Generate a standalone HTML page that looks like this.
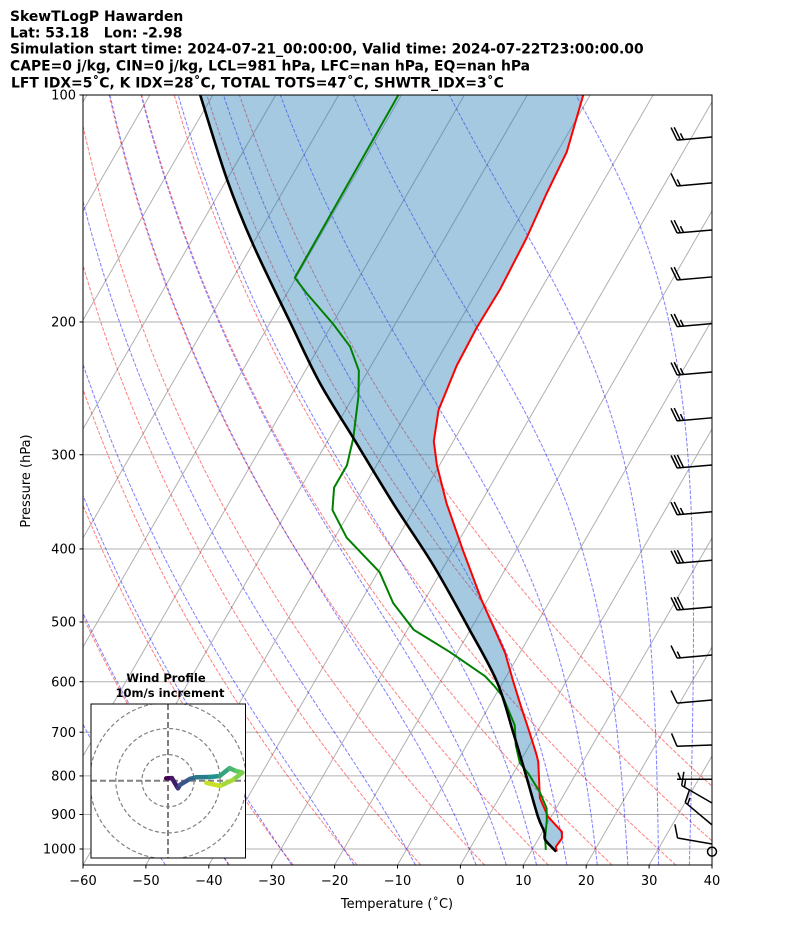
<!DOCTYPE html>
<html><head><meta charset="utf-8">
<style>
html,body{margin:0;padding:0;background:#fff;}
body{width:794px;height:937px;overflow:hidden;font-family:"DejaVu Sans","Liberation Sans",sans-serif;}
svg{display:block;}
</style></head>
<body>
<svg id="chart" width="794" height="937" viewBox="0 0 794 937" xmlns="http://www.w3.org/2000/svg">
  <defs>
    <clipPath id="plotclip"><rect x="83" y="95" width="629" height="770"/></clipPath>
    <clipPath id="hodoclip"><rect x="91" y="704" width="154.5" height="154"/></clipPath>
  </defs>
  <g font-weight="bold" font-size="13.9" fill="#000">
    <text x="10" y="21">SkewTLogP Hawarden</text>
    <text x="10" y="37.5" xml:space="preserve">Lat: 53.18   Lon: -2.98</text>
    <text x="10" y="53.5">Simulation start time: 2024-07-21_00:00:00, Valid time: 2024-07-22T23:00:00.00</text>
    <text x="10" y="70.5">CAPE=0 j/kg, CIN=0 j/kg, LCL=981 hPa, LFC=nan hPa, EQ=nan hPa</text>
    <text x="11" y="87.5">LFT IDX=5˚C, K IDX=28˚C, TOTAL TOTS=47˚C, SHWTR_IDX=3˚C</text>
  </g>
  <g id="plot" clip-path="url(#plotclip)"></g>
  <g id="barbs"></g>
  <rect x="83" y="95" width="629" height="770" fill="none" stroke="#000" stroke-width="1"/>
  <g id="axes" font-size="13" fill="#000"></g>
  <text x="0" y="0" font-size="13" text-anchor="middle" transform="translate(30,481) rotate(-90)">Pressure (hPa)</text>
  <text x="397" y="908" font-size="13" text-anchor="middle">Temperature (˚C)</text>
  <g id="hodo"></g>
</svg>
<script>
// ---- data arrays ----
const tempP = [100,119,135,154.7,181.2,203.4,228.5,261.8,287.9,309.8,347.8,403,467,512,550,600,650,700,750,766,856,906,949,968,993,1008];
const tempT = [-51.1,-48.5,-47.9,-47.0,-46.5,-46.7,-46.4,-45.2,-43.1,-40.4,-35.4,-28.3,-21.0,-16.1,-12.3,-8.4,-4.7,-1.2,2.0,2.9,6.5,9.5,13.1,13.7,13.5,14.1];
const dewP = [100,174.7,183.2,201.4,215.6,232,251,285,309.8,331.7,355.2,386.5,429.4,472,512,548,590,609,628,685,728,769,794,840,883,915,967,1003];
const dewT = [-80.5,-80.2,-76.9,-69.8,-65.1,-61.5,-59.2,-56.2,-54.7,-54.7,-52.9,-48.1,-39.7,-34.7,-29.0,-21.2,-13.4,-10.9,-8.7,-4.2,-2.2,0.1,2.4,5.9,8.5,9.6,11.0,12.2];
const parcelP = [100,129.4,158.1,200,240.8,285,347.8,420.4,507.8,600,700,802,906,949,972.7,1008];
const parcelT = [-112.0,-100.0,-89.8,-76.9,-66.6,-56.2,-43.9,-31.8,-20.6,-11.0,-3.8,2.4,7.9,10.3,11.2,14.0];
const windP = [113.7,130.8,151,174.3,201,233,268,309.5,357,414,477.5,553,634.5,728,808,869,929,985];
const windSpd = [25,15,25,20,25,25,25,30,25,30,30,15,10,10,5,15,15,10];
const windDir = [265,265,265,265,265,265,265,265,265,265,265,265,265,268,270,300,310,280];
const hodoU = [-0.7,1.5,3.8,4.6,8.4,10.8,16.1,19.8,23.6,26.1,28.5,24.9,19.9,14.7];
const hodoV = [0.9,1.0,-2.9,-1.6,0.7,1.3,1.4,1.8,4.8,3.7,3.1,0.3,-2.0,-0.8];
const xTicks = [-60,-50,-40,-30,-20,-10,0,10,20,30,40];
const yTicks = [100,200,300,400,500,600,700,800,900,1000];
const dryT0 = [-40,-30,-20,-10,0,10,20,30,40,50];
const moistT0 = [-50,-40,-30,-20,-10,0,5,10,15,20,25,30,35,40];

// ---- scales ----
const PX0=83, PY0=95, PX1=712, PY1=865;
function Y(p){return 95+754*Math.log10(p/100);}
function X(T,p){return 83+(T+60)*6.29+(865-Y(p))*0.577;}
const NS="http://www.w3.org/2000/svg";
function mk(tag,parent){const e=document.createElementNS(NS,tag);parent.appendChild(e);return e;}
const plot=document.getElementById('plot');
function pathFrom(ps,ts){return ps.map((p,i)=>(i?'L':'M')+X(ts[i],p).toFixed(2)+' '+Y(p).toFixed(2)).join('');}
function smoothPath(ps,ts){
  const pts=ps.map((p,i)=>[X(ts[i],p),Y(p)]);
  let d='M'+pts[0][0].toFixed(2)+' '+pts[0][1].toFixed(2);
  for(let i=0;i<pts.length-1;i++){
    const p0=pts[Math.max(0,i-1)],p1=pts[i],p2=pts[i+1],p3=pts[Math.min(pts.length-1,i+2)];
    const c1=[p1[0]+(p2[0]-p0[0])/6,p1[1]+(p2[1]-p0[1])/6];
    const c2=[p2[0]-(p3[0]-p1[0])/6,p2[1]-(p3[1]-p1[1])/6];
    d+='C'+c1[0].toFixed(2)+' '+c1[1].toFixed(2)+' '+c2[0].toFixed(2)+' '+c2[1].toFixed(2)+' '+p2[0].toFixed(2)+' '+p2[1].toFixed(2);
  }
  return d;
}

// horizontal grid
yTicks.forEach(p=>{
  const l=mk('line',plot);
  
  
  l.setAttribute('x1',PX0);l.setAttribute('x2',PX1);l.setAttribute('y1',Y(p));l.setAttribute('y2',Y(p));
  l.setAttribute('stroke','#b0b0b0');l.setAttribute('stroke-width','1');
});
// isotherms
for(let T=-200;T<=40;T+=10){
  const l=mk('line',plot);
  
  
  l.setAttribute('x1',X(T,1050));l.setAttribute('y1',Y(1050));l.setAttribute('x2',X(T,100));l.setAttribute('y2',Y(100));
  l.setAttribute('stroke','#b0b0b0');l.setAttribute('stroke-width','1');
}
// dry adiabats
const plevs=[];for(let p=1050;p>=100;p-=10)plevs.push(p);
dryT0.forEach(t0=>{
  const ts=plevs.map(p=>(t0+273.15)*Math.pow(p/1000,0.2857)-273.15);
  const e=mk('path',plot);
  
  
  e.setAttribute('d',pathFrom(plevs,ts));
  e.setAttribute('fill','none');e.setAttribute('stroke','#ff0000');e.setAttribute('stroke-opacity','0.5');
  e.setAttribute('stroke-width','1');e.setAttribute('stroke-dasharray','3.7 1.6');
});
// moist adiabats
function es(tc){return 6.112*Math.exp(17.67*tc/(tc+243.5));}
function dTdp(T,p){const e=es(T-273.15);const rs=0.622*e/(p-e);const Rd=287.04,Lv=2.501e6,Cp=1005.7;
  return ((Rd*T+Lv*rs)/(Cp+Lv*Lv*rs*0.622/(Rd*T*T)))/p;}
function integ(T,p0,p1,dp){const out=[[p0,T]];let p=p0;const n=Math.round(Math.abs(p1-p0)/dp);const h=(p1-p0)/n;
  for(let i=0;i<n;i++){const k1=dTdp(T,p),k2=dTdp(T+h/2*k1,p+h/2),k3=dTdp(T+h/2*k2,p+h/2),k4=dTdp(T+h*k3,p+h);
    T+=h/6*(k1+2*k2+2*k3+k4);p+=h;out.push([p,T]);}return out;}
moistT0.forEach(t0=>{
  const up=integ(t0+273.15,1000,100,5);const dn=integ(t0+273.15,1000,1050,5).reverse();
  const all=dn.concat(up.slice(1));
  const e=mk('path',plot);
  
  
  e.setAttribute('d',pathFrom(all.map(a=>a[0]),all.map(a=>a[1]-273.15)));
  e.setAttribute('fill','none');e.setAttribute('stroke','#0000ff');e.setAttribute('stroke-opacity','0.5');
  e.setAttribute('stroke-width','1');e.setAttribute('stroke-dasharray','3.7 1.6');
});
// shaded area between parcel and temperature
{
  const fp=tempP.concat(parcelP.slice().reverse());
  const ft=tempT.concat(parcelT.slice().reverse());
  const f=mk('path',plot);
  
  
  f.setAttribute('d',pathFrom(fp,ft)+'Z');
  f.setAttribute('fill','#1f77b4');f.setAttribute('fill-opacity','0.4');f.setAttribute('stroke','none');
}
// profiles
function line(d,color,w){const e=mk('path',plot);
  e.setAttribute('d',d);e.setAttribute('fill','none');e.setAttribute('stroke',color);
  e.setAttribute('stroke-width',w);e.setAttribute('stroke-linejoin','round');return e;}
const lt=line(pathFrom(tempP,tempT),'#ff0000',2);


const ld=line(pathFrom(dewP,dewT),'#008000',2);


const lp=line(smoothPath(parcelP,parcelT),'#000000',2.6);



// wind barbs
const barbs=document.getElementById('barbs');
windP.forEach((p,i)=>{
  const g=mk('g',barbs);
  
  
  const x0=712,y0=Y(p),L=35,d=windDir[i]*Math.PI/180;
  const ux=Math.sin(d),uy=-Math.cos(d);
  const px=-uy,py=ux;
  const ex=x0+ux*L,ey=y0+uy*L;
  let dstr='M'+x0+' '+y0.toFixed(2)+'L'+ex.toFixed(2)+' '+ey.toFixed(2);
  let s=windSpd[i];let pos=0;
  const full=Math.floor(s/10);const half=(s%10)>=5?1:0;
  for(let k=0;k<full;k++){const bx=ex-ux*pos,by=ey-uy*pos;
    dstr+='M'+bx.toFixed(2)+' '+by.toFixed(2)+'L'+(bx+px*13+ux*5).toFixed(2)+' '+(by+py*13+uy*5).toFixed(2);pos+=3.2;}
  if(half){if(full===0)pos=3.5;const bx=ex-ux*pos,by=ey-uy*pos;
    dstr+='M'+bx.toFixed(2)+' '+by.toFixed(2)+'L'+(bx+px*6.5+ux*2.5).toFixed(2)+' '+(by+py*6.5+uy*2.5).toFixed(2);}
  const e=mk('path',g);e.setAttribute('d',dstr);e.setAttribute('stroke','#000');e.setAttribute('stroke-width','1.5');e.setAttribute('fill','none');
});
{const c=mk('circle',barbs);


c.setAttribute('cx',712);c.setAttribute('cy',Y(1008));c.setAttribute('r',4.5);c.setAttribute('fill','none');c.setAttribute('stroke','#000');c.setAttribute('stroke-width','1.5');}

// axes ticks
const axes=document.getElementById('axes');
xTicks.forEach(t=>{const x=PX0+(t+60)*6.29;
  const l=mk('line',axes);
  
  
  l.setAttribute('x1',x);l.setAttribute('x2',x);l.setAttribute('y1',PY1);l.setAttribute('y2',PY1+3.5);l.setAttribute('stroke','#000');
  const tx=mk('text',axes);
  
  
  tx.setAttribute('x',x);tx.setAttribute('y',PY1+20);tx.setAttribute('text-anchor','middle');
  tx.textContent=(t<0?'\u2212'+(-t):String(t));
});
yTicks.forEach(p=>{const y=Y(p);
  const l=mk('line',axes);
  
  
  l.setAttribute('x1',PX0-3.5);l.setAttribute('x2',PX0);l.setAttribute('y1',y);l.setAttribute('y2',y);l.setAttribute('stroke','#000');
  const tx=mk('text',axes);
  
  
  tx.setAttribute('x',PX0-7);tx.setAttribute('y',y+4.7);tx.setAttribute('text-anchor','end');
  tx.textContent=String(p);
});

// hodograph inset
const hodo=document.getElementById('hodo');
const HX=168,HY=780.7,HS=2.61;
{
  const bg=mk('rect',hodo);
  
  
  bg.setAttribute('x',91);bg.setAttribute('y',704);bg.setAttribute('width',154.5);bg.setAttribute('height',154);bg.setAttribute('fill','#fff');
  const gc=mk('g',hodo);gc.setAttribute('clip-path','url(#hodoclip)');
  [10,20,30].forEach(r=>{const c=mk('circle',gc);
    
    
    c.setAttribute('cx',HX);c.setAttribute('cy',HY);c.setAttribute('r',r*HS);c.setAttribute('fill','none');
    c.setAttribute('stroke','#808080');c.setAttribute('stroke-width','1.2');c.setAttribute('stroke-dasharray','4 2.5');});
  const a1=mk('line',gc);
  
  
  a1.setAttribute('x1',91);a1.setAttribute('x2',246);a1.setAttribute('y1',HY);a1.setAttribute('y2',HY);
  a1.setAttribute('stroke','#808080');a1.setAttribute('stroke-width','2');a1.setAttribute('stroke-dasharray','6 3');
  const a2=mk('line',gc);
  
  
  a2.setAttribute('x1',HX);a2.setAttribute('x2',HX);a2.setAttribute('y1',704);a2.setAttribute('y2',858);
  a2.setAttribute('stroke','#808080');a2.setAttribute('stroke-width','2');a2.setAttribute('stroke-dasharray','6 3');
  const vir=[[68,1,84],[59,82,139],[33,145,140],[94,201,98],[200,224,40]];
  function vc(f){const s=f*(vir.length-1);const i=Math.min(vir.length-2,Math.floor(s));const r=s-i;
    const c=vir[i].map((v,k)=>Math.round(v+(vir[i+1][k]-v)*r));return 'rgb('+c.join(',')+')';}
  const n=hodoU.length;
  for(let i=0;i<n-1;i++){const s=mk('line',gc);
    
    
    s.setAttribute('x1',HX+hodoU[i]*HS);s.setAttribute('y1',HY-hodoV[i]*HS);
    s.setAttribute('x2',HX+hodoU[i+1]*HS);s.setAttribute('y2',HY-hodoV[i+1]*HS);
    s.setAttribute('stroke',vc(i/(n-2)));s.setAttribute('stroke-width','4.5');s.setAttribute('stroke-linecap','round');}
  const fr=mk('rect',hodo);
  
  
  fr.setAttribute('x',91);fr.setAttribute('y',704);fr.setAttribute('width',154.5);fr.setAttribute('height',154);
  fr.setAttribute('fill','none');fr.setAttribute('stroke','#000');fr.setAttribute('stroke-width','1');
  const t1=mk('text',hodo);
  
  
  t1.setAttribute('x',166);t1.setAttribute('y',682);t1.setAttribute('text-anchor','middle');t1.setAttribute('font-size','11.5');t1.setAttribute('font-weight','bold');
  t1.textContent='Wind Profile';
  const t2=mk('text',hodo);
  
  
  t2.setAttribute('x',170);t2.setAttribute('y',697);t2.setAttribute('text-anchor','middle');t2.setAttribute('font-size','11.5');t2.setAttribute('font-weight','bold');
  t2.textContent='10m/s increment';
}
</script>
</body></html>
